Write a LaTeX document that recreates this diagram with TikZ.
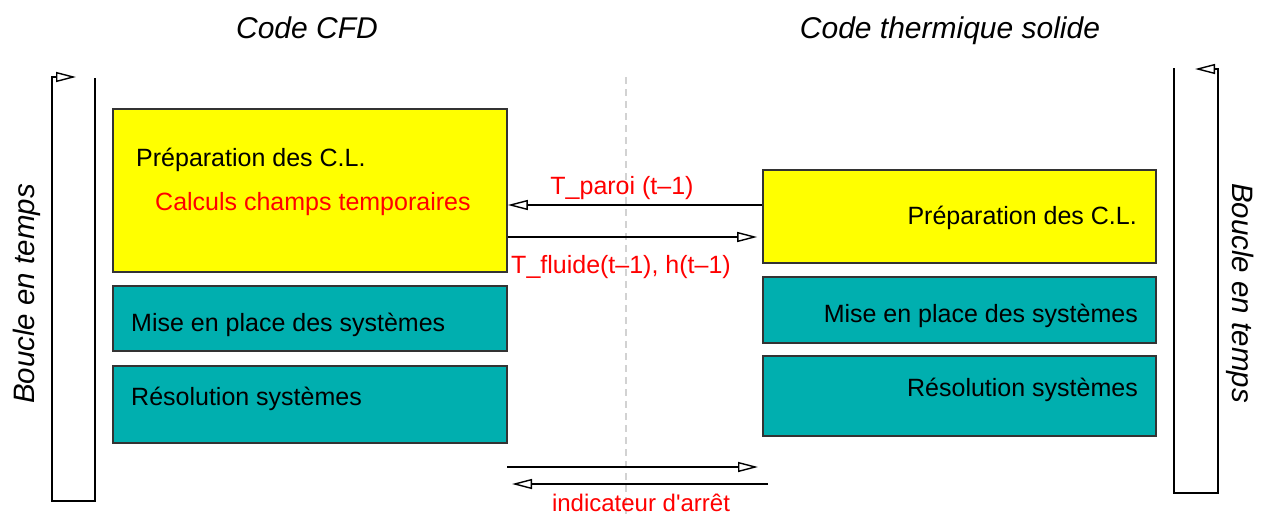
\documentclass[tikz,border=0pt]{standalone}
\usepackage{fontspec}
\setmainfont{Liberation Sans}
\newfontfamily\plainfont{Liberation Sans}
\usetikzlibrary{arrows.meta}
\definecolor{teal4}{HTML}{00AFAF}
\definecolor{yell}{HTML}{FFFF00}
\definecolor{bordergray}{HTML}{333333}
\begin{document}
\begin{tikzpicture}[x=1pt,y=-1pt,
  box/.style={draw=bordergray, line width=1.6pt, inner sep=0pt, anchor=center},
  ybox/.style={box, fill=yell},
  tbox/.style={box, fill=teal4},
  txt/.style={font=\fontsize{25}{30}\selectfont, inner sep=0pt},
  redtxt/.style={txt, text=red},
  title/.style={font=\fontsize{30}{36}\selectfont\itshape, inner sep=0pt},
  arr/.style={line width=1.4pt, -{Triangle[open, length=20pt, width=10pt, line width=1.4pt]}},
  loopline/.style={line width=1.4pt, -{Triangle[open, length=20pt, width=10pt, line width=1.4pt]}}
]
\useasboundingbox (0,0) rectangle (1261,514);
\fill[white] (0,0) rectangle (1261,514);

% dashed separator
\coordinate (dtop) at (626,77);
\coordinate (dbot) at (626,514);
\draw[gray!35, line width=1.5pt, dash pattern=on 7pt off 5pt] (dtop) -- (dbot);

% titles
\node[title, anchor=base] (t1) at (307,38) {Code CFD};
\node[title, anchor=base] (t2) at (950,38) {Code thermique solide};

% left boxes
\node[ybox, minimum width=394pt, minimum height=163pt] (ly) at (310,190.5) {};
\node[tbox, minimum width=394pt, minimum height=65pt] (lt1) at (310,318.5) {};
\node[tbox, minimum width=394pt, minimum height=77pt] (lt2) at (310,404.5) {};
\node[txt, anchor=base west] (lyA) at (136,166) {Préparation des C.L.};
\node[redtxt, anchor=base west] (lyB) at (155,210) {Calculs champs temporaires};
\node[txt, anchor=base west] (lt1t) at (131,331) {Mise en place des systèmes};
\node[txt, anchor=base west] (lt2t) at (131,405) {Résolution systèmes};

% right boxes
\node[ybox, minimum width=393pt, minimum height=93pt] (ry) at (959.5,216.5) {};
\node[tbox, minimum width=393pt, minimum height=66pt] (rt1) at (959.5,310) {};
\node[tbox, minimum width=393pt, minimum height=80pt] (rt2) at (959.5,396) {};
\node[txt, anchor=base east] (ryA) at (1137,224) {Préparation des C.L.};
\node[txt, anchor=base east] (rt1t) at (1138,322) {Mise en place des systèmes};
\node[txt, anchor=base east] (rt2t) at (1138,396) {Résolution systèmes};

% exchange arrows
\draw[arr] (ry.west |- 0,205) -- (ly.east |- 0,205);
\draw[arr, shorten >=5pt] (ly.east |- 0,237) -- (ry.west |- 0,237);
\node[redtxt, anchor=base] (lp) at (622,194) {T\_paroi (t–1)};
\node[redtxt, anchor=base] (lf) at (621,273) {T\_fluide(t–1), h(t–1)};

% stop indicator arrows
\coordinate (s1a) at (507,467);
\coordinate (s1b) at (758,467);
\coordinate (s2a) at (768,484);
\coordinate (s2b) at (512,484);
\draw[arr] (s1a) -- (s1b);
\draw[arr] (s2a) -- (s2b);
\node[redtxt, anchor=base, font=\fontsize{24}{28}\selectfont\plainfont] (ia) at (641,511) {indicateur d'arrêt};

% time loops
\coordinate (l1) at (95,78);
\coordinate (l2) at (95,501);
\coordinate (l3) at (52,501);
\coordinate (l4) at (52,77);
\coordinate (l5) at (76,77);
\draw[loopline, line join=miter] (l1) -- (l2) -- (l3) -- (l4) -- (l5);
\coordinate (r1) at (1174,68);
\coordinate (r2) at (1174,493);
\coordinate (r3) at (1218,493);
\coordinate (r4) at (1218,69);
\coordinate (r5) at (1195,69);
\draw[loopline, line join=miter] (r1) -- (r2) -- (r3) -- (r4) -- (r5);

\node[title, font=\fontsize{29.5}{34}\selectfont\itshape, rotate=90] (bl) at (27,294) {Boucle en temps};
\node[title, font=\fontsize{29.5}{34}\selectfont\itshape, rotate=-90] (br) at (1240,293) {Boucle en temps};
\end{tikzpicture}
\end{document}
